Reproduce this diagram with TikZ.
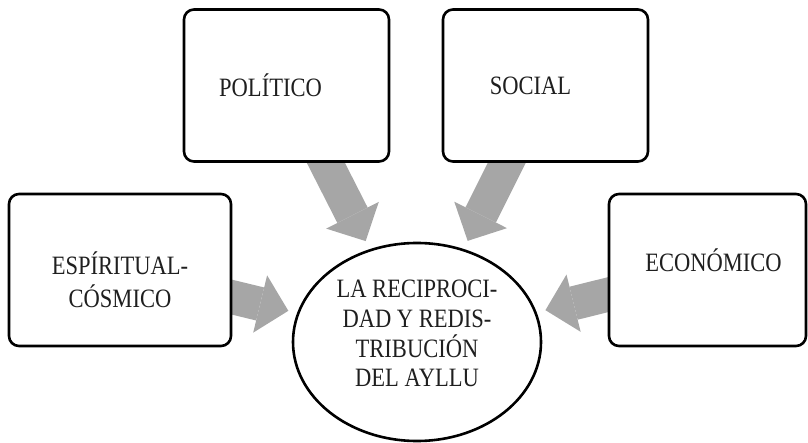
\documentclass[tikz,border=0pt]{standalone}
\usepackage{fontspec}
\setmainfont{Liberation Serif}[FakeStretch=0.85]
\usepackage{tikz}
\usetikzlibrary{arrows.meta,positioning,shapes.geometric,backgrounds}
\definecolor{AylluInk}{gray}{0.12}
\definecolor{AylluGray}{gray}{0.65}

\begin{document}
\begin{tikzpicture}[x=1pt,y=-1pt,
  area/.style={draw=black,line width=2.6pt,rounded corners=10pt,fill=white,minimum width=205pt,minimum height=152pt,inner sep=0pt,align=center,text=AylluInk,font=\fontsize{26.5}{33}\selectfont},
  core/.style={ellipse,draw=black,line width=2.6pt,fill=white,minimum width=248pt,minimum height=198pt,inner sep=0pt,align=center,text=AylluInk,font=\fontsize{26.5}{29.7}\selectfont},
  flow/.style={draw=AylluGray,line width=34pt,-{Triangle[length=29pt,width=59pt,line width=0pt]},shorten >=9pt}]
  \useasboundingbox (0,0) rectangle (808,443);
  \node[core,text depth=17pt] (ayllu) at (417,342) {LA RECIPROCI-\\DAD Y REDIS-\\TRIBUCIÓN\\DEL AYLLU};
  \node[area] (pol) at (286.5,85.5) {\hspace*{-32pt}POLÍTICO};
  \node[area] (soc) at (545.5,85.5) {\hspace*{-30pt}SOCIAL};
  \node[area,minimum width=222pt,text height=76pt] (esp) at (120,270) {ESPÍRITUAL-\\CÓSMICO};
  \node[area,minimum width=197pt,text depth=20pt] (eco) at (707.5,270) {\hspace*{12pt}ECONÓMICO};
  \begin{scope}[on background layer]
    \draw[flow] (pol.center) -- (ayllu);
    \draw[flow] (soc.center) -- (ayllu);
    \draw[flow] (esp.center) -- (ayllu);
    \draw[flow] (eco.center) -- (ayllu);
  \end{scope}
\end{tikzpicture}
\end{document}
